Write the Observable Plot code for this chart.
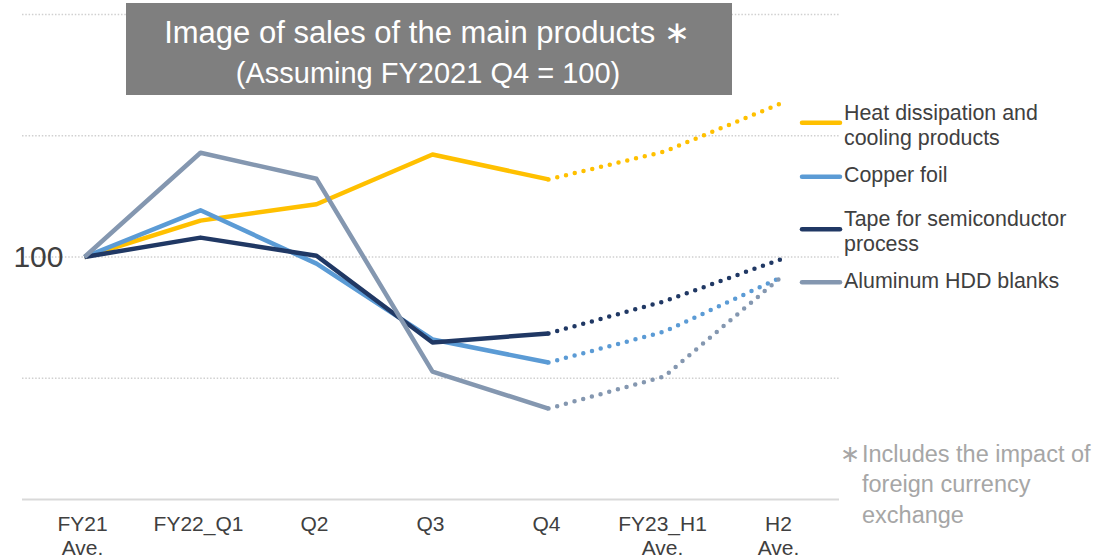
<!DOCTYPE html>
<html>
<head>
<meta charset="utf-8">
<script src="https://cdn.jsdelivr.net/npm/d3@7"></script>
<script src="https://cdn.jsdelivr.net/npm/@observablehq/plot@0.6"></script>
<style>
  html, body { margin: 0; padding: 0; background: #ffffff; }
  #wrap { position: relative; width: 1099px; height: 560px; overflow: hidden; }
  #overlay { position: absolute; left: 0; top: 0; pointer-events: none; }
</style>
</head>
<body>
<div id="wrap"></div>
<script>
// ---- data ----
const categories = ["FY21\nAve.", "FY22_Q1", "Q2", "Q3", "Q4", "FY23_H1\nAve.", "H2\nAve."];
const seriesNames = ["Heat dissipation and\ncooling products", "Copper foil", "Tape for semiconductor\nprocess", "Aluminum HDD blanks"];
const seriesColors = ["#FFC000", "#5B9BD5", "#203864", "#8497B0"];
const heatValues   = [100, 106.0, 108.7, 116.9, 112.8, 117.4, 125.3];
const copperValues = [100, 107.7, 98.9, 86.4, 82.6, 87.7, 96.6];
const tapeValues   = [100, 103.2, 100.2, 85.9, 87.4, 92.7, 99.6];
const hddValues    = [100, 117.2, 112.9, 81.1, 75.0, 80.3, 96.6];
const actualCount = 5; // FY21 Ave. .. Q4 are actual (solid), the rest forecast (dotted)
const gridValues = [80, 100, 120, 140];
const yTickValues = [100];
const titleLines = ["Image of sales of the main products \u2217", "(Assuming FY2021 Q4 = 100)"];
const noteMark = "\u2217";
const noteLines = ["Includes the impact of", "foreign currency", "exchange"];

const allValues = [heatValues, copperValues, tapeValues, hddValues];
const solid = [], dotted = [];
allValues.forEach((vals, s) => {
  vals.forEach((v, i) => {
    const row = {series: seriesNames[s], cat: categories[i], value: v};
    if (i < actualCount) solid.push(row);
    if (i >= actualCount - 1) dotted.push(row);
  });
});

const font = "'Liberation Sans', Arial, Helvetica, sans-serif";

const chart = Plot.plot({
  width: 1099,
  height: 560,
  marginLeft: 24,
  marginRight: 260,
  marginTop: 14,
  marginBottom: 61,
  style: {fontFamily: font, background: "transparent"},
  x: {type: "point", domain: categories, padding: 0.5},
  y: {domain: [60, 140]},
  color: {domain: seriesNames, range: seriesColors},
  marks: [
    Plot.ruleY(gridValues, {stroke: "#d0d0d0", strokeWidth: 1.5, strokeDasharray: "1.5 1.8", insetLeft: -2}),
    Plot.ruleY([60], {stroke: "#d9d9d9", strokeWidth: 2, insetLeft: -2}),
    Plot.axisY(yTickValues, {anchor: "left", tickSize: 0, tickPadding: 0, dx: 39, fontSize: 30, fill: "#404040", label: null}),
    Plot.axisX({tickSize: 0, tickPadding: 15, fontSize: 21, lineHeight: 1.12, fill: "#404040", label: null, dx: -2}),
    Plot.line(solid, {x: "cat", y: "value", z: "series", stroke: "series", strokeWidth: 4.5, strokeLinejoin: "round", strokeLinecap: "butt"}),
    Plot.line(dotted, {x: "cat", y: "value", z: "series", stroke: "series", strokeWidth: 4.5, strokeDasharray: "0 9", strokeLinecap: "round"})
  ]
});
document.getElementById("wrap").appendChild(chart);

// ---- overlay: title box, legend, note ----
const ov = d3.select("#wrap").append("svg")
  .attr("id", "overlay").attr("width", 1099).attr("height", 560)
  .style("font-family", font);

ov.append("rect").attr("x", 126).attr("y", 3).attr("width", 606).attr("height", 92).attr("fill", "#7f7f7f");
ov.append("text").attr("x", 427).attr("y", 43).attr("text-anchor", "middle")
  .attr("font-size", 31).attr("fill", "#ffffff").text(titleLines[0]);
ov.append("text").attr("x", 428).attr("y", 83).attr("text-anchor", "middle")
  .attr("font-size", 29).attr("fill", "#ffffff").text(titleLines[1]);

const legendSwatchY = [122.7, 176.7, 229.3, 282.3];
const legendBaseY = [120, 181.7, 226, 288.3];
seriesNames.forEach((name, i) => {
  ov.append("line").attr("x1", 802).attr("x2", 840)
    .attr("y1", legendSwatchY[i]).attr("y2", legendSwatchY[i])
    .attr("stroke", seriesColors[i]).attr("stroke-width", 4.5).attr("stroke-linecap", "round");
  const t = ov.append("text").attr("font-size", 21.4).attr("fill", "#404040");
  name.split("\n").forEach((ln, j) => {
    t.append("tspan").attr("x", 844).attr("y", legendBaseY[i] + j * 25).text(ln);
  });
});

ov.append("text").attr("x", 840).attr("y", 461.7).attr("font-size", 23.5).attr("fill", "#a6a6a6").text(noteMark);
const nt = ov.append("text").attr("font-size", 23.5).attr("fill", "#a6a6a6");
noteLines.forEach((ln, j) => {
  nt.append("tspan").attr("x", 862).attr("y", 461.7 + j * 30.6).text(ln);
});
</script>
</body>
</html>
